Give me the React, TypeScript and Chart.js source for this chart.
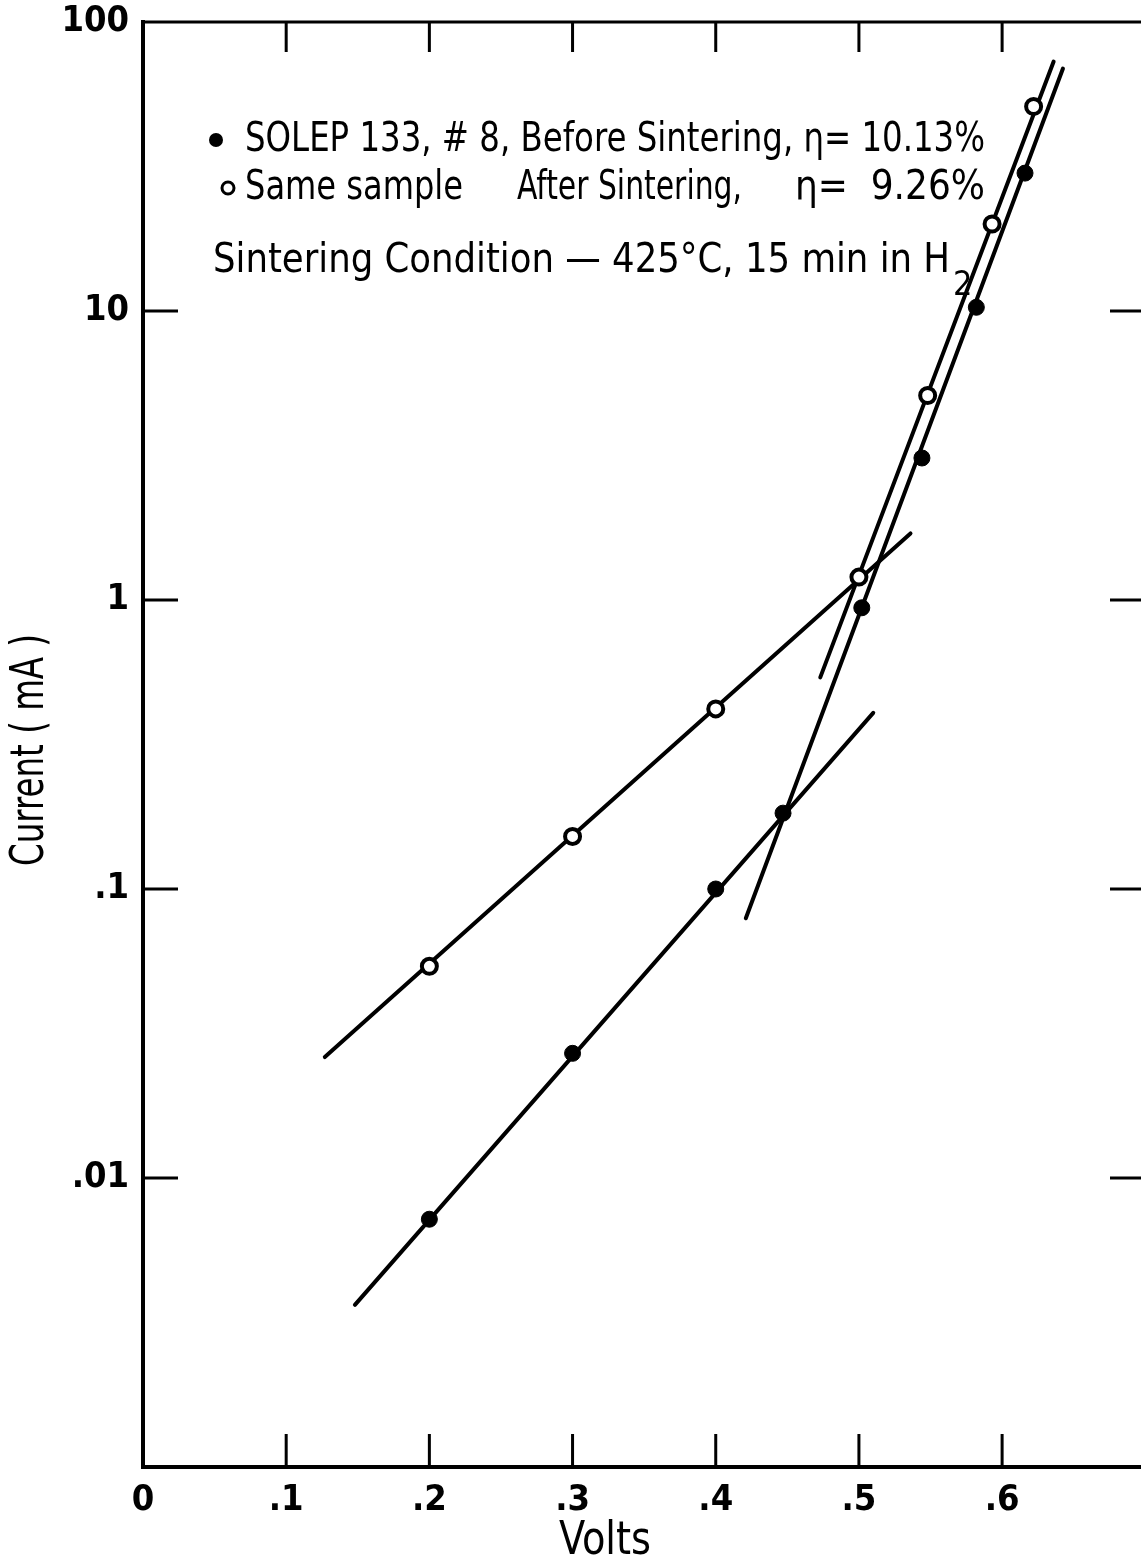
import React, { useEffect, useRef } from "react";
import { Chart, registerables } from "chart.js";

Chart.register(...registerables);

// Measured points: before sintering (filled) and after sintering (open)
const beforeVolts = [0.2, 0.3, 0.4, 0.447, 0.502, 0.544, 0.582, 0.616];
const beforeCurrent = [0.0072, 0.027, 0.1, 0.183, 0.94, 3.1, 10.3, 30];
const afterVolts = [0.2, 0.3, 0.4, 0.5, 0.548, 0.593, 0.622];
const afterCurrent = [0.054, 0.152, 0.42, 1.2, 5.1, 20, 51];

// Fitted straight lines (end points)
const beforeLowFitVolts = [0.148, 0.51];
const beforeLowFitCurrent = [0.00364, 0.407];
const beforeHighFitVolts = [0.421, 0.6425];
const beforeHighFitCurrent = [0.0792, 69];
const afterLowFitVolts = [0.127, 0.536];
const afterLowFitCurrent = [0.0262, 1.7];
const afterHighFitVolts = [0.473, 0.636];
const afterHighFitCurrent = [0.54, 73];

const xTicks = [0, 0.1, 0.2, 0.3, 0.4, 0.5, 0.6];
const yTicks = [0.001, 0.01, 0.1, 1, 10, 100];
const yTickLabels = ["", ".01", ".1", "1", "10", "100"];
const xTickLabels = ["0", ".1", ".2", ".3", ".4", ".5", ".6"];

const legendBefore = "SOLEP 133, # 8, Before Sintering, \u03b7= 10.13%";
const legendAfterA = "Same sample";
const legendAfterB = "After Sintering,";
const legendAfterC = "\u03b7=  9.26%";
const conditionText = "Sintering Condition \u2014 425\u00b0C, 15 min in H";
const conditionSub = "2";
const xTitle = "Volts";
const yTitle = "Current ( mA )";

const FONT = "'Liberation Sans Narrow', 'DejaVu Sans Condensed', 'Liberation Sans', sans-serif";

const pts = (xs: number[], ys: number[]) => xs.map((v, i) => ({ x: v, y: ys[i] }));

export default function App() {
  const ref = useRef<HTMLCanvasElement>(null);

  useEffect(() => {
    document.body.style.margin = "0";
    const canvas = ref.current!;

    const overlay = {
      id: "overlay",
      afterDraw(chart: any) {
        const { ctx, chartArea, scales } = chart;
        const { left, top, right, bottom } = chartArea;
        const x = scales.x;
        const y = scales.y;
        ctx.save();
        ctx.strokeStyle = "#000";
        ctx.fillStyle = "#000";
        // top border
        ctx.lineWidth = 3;
        ctx.beginPath();
        ctx.moveTo(left - 2, top);
        ctx.lineTo(right, top);
        ctx.stroke();
        // inward ticks
        ctx.lineWidth = 3;
        xTicks.forEach((v) => {
          if (v === 0) return;
          const px = x.getPixelForValue(v);
          ctx.beginPath();
          ctx.moveTo(px, top);
          ctx.lineTo(px, top + 30);
          ctx.moveTo(px, bottom);
          ctx.lineTo(px, bottom - 33);
          ctx.stroke();
        });
        [10, 1, 0.1, 0.01].forEach((v) => {
          const py = y.getPixelForValue(v);
          ctx.beginPath();
          ctx.moveTo(left, py);
          ctx.lineTo(left + 35, py);
          ctx.moveTo(right - 31, py);
          ctx.lineTo(right, py);
          ctx.stroke();
        });

        // legend markers
        ctx.beginPath();
        ctx.arc(216, 140, 7, 0, Math.PI * 2);
        ctx.fill();
        ctx.beginPath();
        ctx.lineWidth = 3;
        ctx.fillStyle = "#fff";
        ctx.arc(228, 188, 6, 0, Math.PI * 2);
        ctx.fill();
        ctx.stroke();
        ctx.fillStyle = "#000";

        // legend text
        ctx.textBaseline = "middle";
        ctx.textAlign = "left";
        ctx.font = `40px ${FONT}`;
        ctx.fillText(legendBefore, 245, 141, 740);
        ctx.fillText(legendAfterA, 245, 189, 218);
        ctx.fillText(legendAfterB, 517, 189, 225);
        ctx.textAlign = "right";
        ctx.fillText(legendAfterC, 985, 189, 200);
        ctx.textAlign = "left";
        ctx.fillText(conditionText, 213, 262, 737);
        ctx.font = `34px ${FONT}`;
        ctx.fillText(conditionSub, 953, 286);

        // axis titles
        ctx.font = `46px ${FONT}`;
        ctx.textAlign = "center";
        ctx.fillText(xTitle, 605, 1542, 92);
        ctx.save();
        ctx.translate(31, 750);
        ctx.rotate(-Math.PI / 2);
        ctx.fillText(yTitle, 0, 0, 232);
        ctx.restore();
        ctx.restore();
      },
    };

    const lineStyle = {
      showLine: true,
      borderColor: "#000",
      borderWidth: 4,
      borderCapStyle: "round" as const,
      pointRadius: 0,
      order: 2,
    };

    const chart = new Chart(canvas, {
      type: "scatter",
      data: {
        datasets: [
          {
            label: "Before Sintering",
            data: pts(beforeVolts, beforeCurrent),
            pointRadius: 8,
            pointBackgroundColor: "#000",
            pointBorderColor: "#000",
            pointBorderWidth: 1,
            order: 0,
          },
          {
            label: "After Sintering",
            data: pts(afterVolts, afterCurrent),
            pointRadius: 7.5,
            pointBackgroundColor: "#fff",
            pointBorderColor: "#000",
            pointBorderWidth: 4,
            order: 0,
          },
          { label: "fit1", data: pts(beforeLowFitVolts, beforeLowFitCurrent), ...lineStyle },
          { label: "fit2", data: pts(beforeHighFitVolts, beforeHighFitCurrent), ...lineStyle },
          { label: "fit3", data: pts(afterLowFitVolts, afterLowFitCurrent), ...lineStyle },
          { label: "fit4", data: pts(afterHighFitVolts, afterHighFitCurrent), ...lineStyle },
        ],
      },
      options: {
        responsive: false,
        animation: false,
        devicePixelRatio: 1,
        layout: { autoPadding: false, padding: { top: 22, right: 0, left: 0, bottom: 0 } },
        plugins: { legend: { display: false }, tooltip: { enabled: false } },
        scales: {
          x: {
            type: "linear",
            min: 0,
            max: 0.697,
            afterFit: (s: any) => {
              s.height = 95;
              s.paddingLeft = 0;
              s.paddingRight = 0;
            },
            afterBuildTicks: (s: any) => {
              s.ticks = xTicks.map((v) => ({ value: v }));
            },
            ticks: {
              color: "#000",
              padding: 12,
              maxRotation: 0,
              autoSkip: false,
              font: { family: FONT, size: 36, weight: "bold" },
              callback: (v: any) => {
                const i = xTicks.findIndex((t) => Math.abs(t - v) < 1e-6);
                return i >= 0 ? xTickLabels[i] : "";
              },
            },
            grid: { drawOnChartArea: false, drawTicks: false },
            border: { display: true, color: "#000", width: 4 },
          },
          y: {
            type: "logarithmic",
            min: 0.001,
            max: 100,
            afterFit: (s: any) => {
              s.width = 143;
              s.paddingTop = 0;
              s.paddingBottom = 0;
            },
            afterBuildTicks: (s: any) => {
              s.ticks = yTicks.map((v) => ({ value: v }));
            },
            ticks: {
              color: "#000",
              padding: 14,
              autoSkip: false,
              font: { family: FONT, size: 36, weight: "bold" },
              callback: (v: any) => {
                const i = yTicks.findIndex((t) => Math.abs(Math.log10(t) - Math.log10(v)) < 1e-6);
                return i >= 0 ? yTickLabels[i] : "";
              },
            },
            grid: { drawOnChartArea: false, drawTicks: false },
            border: { display: true, color: "#000", width: 4 },
          },
        },
      },
      plugins: [overlay],
    });

    return () => chart.destroy();
  }, []);

  return (
    <div style={{ width: 1141, height: 1562, overflow: "hidden", background: "#fff" }}>
      <canvas ref={ref} width={1141} height={1562} style={{ display: "block" }} />
    </div>
  );
}
